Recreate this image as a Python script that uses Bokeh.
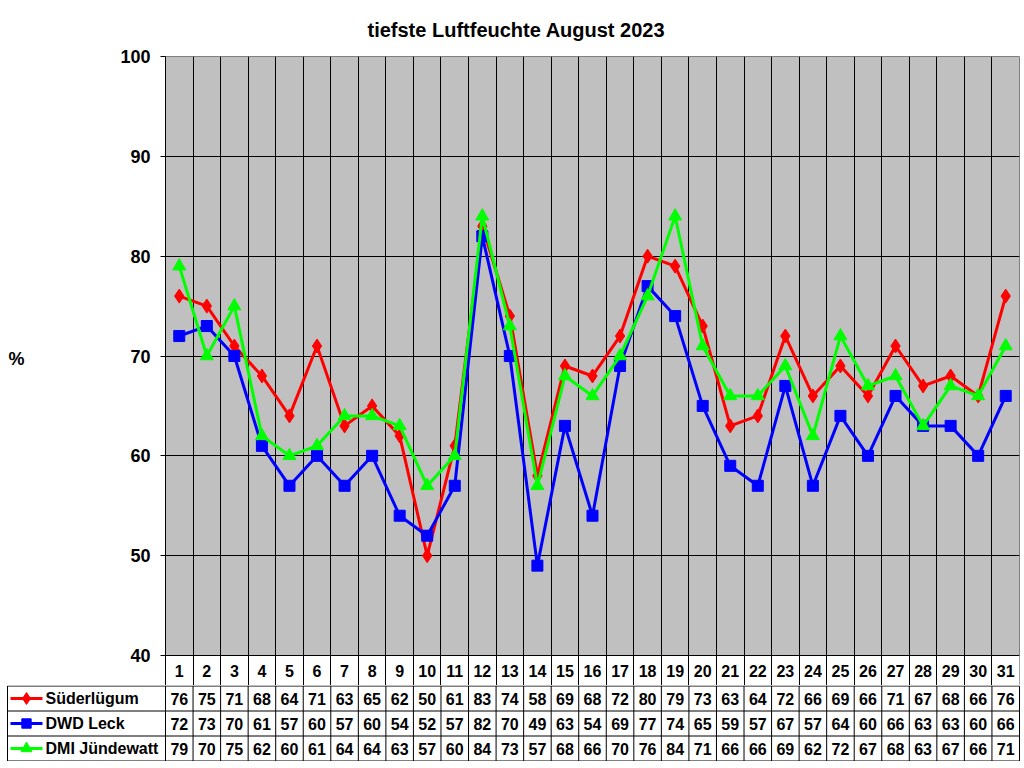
from bokeh.plotting import figure
from bokeh.models import Range1d, FixedTicker, Title, BoxAnnotation
from bokeh.core.properties import value
from bokeh.embed import file_html
from bokeh.resources import INLINE

# ---- data ----
days = list(range(1, 32))
suederluegum = [76, 75, 71, 68, 64, 71, 63, 65, 62, 50, 61, 83, 74, 58, 69, 68, 72, 80, 79, 73, 63, 64, 72, 66, 69, 66, 71, 67, 68, 66, 76]
dwd_leck = [72, 73, 70, 61, 57, 60, 57, 60, 54, 52, 57, 82, 70, 49, 63, 54, 69, 77, 74, 65, 59, 57, 67, 57, 64, 60, 66, 63, 63, 60, 66]
dmi_juendewatt = [79, 70, 75, 62, 60, 61, 64, 64, 63, 57, 60, 84, 73, 57, 68, 66, 70, 76, 84, 71, 66, 66, 69, 62, 72, 67, 68, 63, 67, 66, 71]
series_names = ["Süderlügum", "DWD Leck", "DMI Jündewatt"]
series_values = [suederluegum, dwd_leck, dmi_juendewatt]
series_colors = ["#FF0000", "#0000FF", "#00FF00"]
series_markers = ["diamond", "square", "triangle"]
series_sizes = [14, 11, 13]
y_ticks = [40, 50, 60, 70, 80, 90, 100]
y_min, y_max = 40, 100
title_text = "tiefste Luftfeuchte August 2023"
y_label = "%"

FONT = "Liberation Sans"
W = 1022
LEFT = 165
RIGHT = 3
TOP = 56
CHART_H = 599      # px for y_min..y_max
HEADER_H = 30      # day-number row
FRAME_W = W - LEFT - RIGHT
u = FRAME_W / 31.0            # px per day
ppu = CHART_H / (y_max - y_min)  # px per %

# ---- top chart (with header row inside frame) ----
p = figure(width=W, height=TOP + CHART_H + HEADER_H, output_backend="svg",
           toolbar_location=None,
           x_range=Range1d(0.5, 31.5),
           y_range=Range1d(y_min - HEADER_H / ppu, y_max),
           min_border_left=LEFT, min_border_right=RIGHT, min_border_top=TOP,
           min_border_bottom=0)
p.title = Title(text=title_text, align="left", offset=202, vertical_align="top",
                text_font=FONT, text_font_size="20px", text_font_style="bold",
                text_color="black", standoff=27)
p.background_fill_color = "#C0C0C0"
p.border_fill_color = "white"
p.outline_line_color = "#808080"
p.outline_line_width = 1

# white header row under the grid lines
p.add_layout(BoxAnnotation(top=y_min, fill_color="white", fill_alpha=1.0,
                           line_color=None, level="image"))

# grids
p.xgrid.ticker = FixedTicker(ticks=[d + 0.5 for d in days])
p.xgrid.grid_line_color = "black"
p.xgrid.grid_line_width = 1
p.ygrid.ticker = FixedTicker(ticks=y_ticks[:-1])
p.ygrid.grid_line_color = "black"
p.ygrid.grid_line_width = 1
p.xaxis.visible = False

# day numbers
p.text(x=days, y=[y_min - (HEADER_H / 2) / ppu] * len(days), text=[str(d) for d in days],
       text_align="center", text_baseline="middle", text_font=value(FONT),
       text_font_size="16px", text_font_style="bold", text_color="black")

# y axis
ya = p.yaxis[0]
ya.ticker = FixedTicker(ticks=y_ticks)
ya.major_tick_out = 5
ya.major_tick_in = 0
ya.minor_tick_line_color = None
ya.axis_line_color = "black"
ya.major_tick_line_color = "black"
ya.major_label_standoff = 10
ya.major_label_text_font = FONT
ya.major_label_text_font_size = "18px"
ya.major_label_text_font_style = "bold"
ya.major_label_text_color = "black"
ya.axis_label = y_label + "\n\u00a0"
ya.axis_label_orientation = "horizontal"
ya.axis_label_standoff = 93
ya.axis_label_text_font = FONT
ya.axis_label_text_font_size = "18px"
ya.axis_label_text_font_style = "bold"
ya.axis_label_text_color = "black"

for vals, col, mk, sz in zip(series_values, series_colors, series_markers, series_sizes):
    p.line(days, vals, line_color=col, line_width=3)
    p.scatter(days, vals, marker=mk, size=sz, fill_color=col, line_color=col)

# ---- table ----
ROW_H = 25
t = figure(width=W, height=3 * ROW_H + 1, output_backend="svg", toolbar_location=None,
           x_range=Range1d(0.5 - LEFT / u, 31.5 + RIGHT / u),
           y_range=Range1d(3 + 0.5 / ROW_H, -0.5 / ROW_H),
           min_border=0, min_border_left=0, min_border_right=0,
           min_border_top=0, min_border_bottom=0)
t.xaxis.visible = False
t.yaxis.visible = False
t.xgrid.visible = False
t.ygrid.visible = False
t.outline_line_color = None
t.background_fill_color = "white"
t.border_fill_color = "white"

x_left = 0.5 - (LEFT - 7) / u
x_right = 31.5
t.segment(x0=[x_left] * 4, y0=[0, 1, 2, 3], x1=[x_right] * 4, y1=[0, 1, 2, 3],
          line_color="black", line_width=1)
vx = [x_left] + [d - 0.5 for d in days] + [31.5]
t.segment(x0=vx, y0=[0] * len(vx), x1=vx, y1=[3] * len(vx), line_color="black", line_width=1)

for r, (name, vals, col, mk, sz) in enumerate(zip(series_names, series_values, series_colors,
                                                   series_markers, series_sizes)):
    yc = r + 0.5
    t.text(x=days, y=[yc] * 31, text=[str(v) for v in vals], text_align="center",
           text_baseline="middle", text_font=value(FONT), text_font_size="16px",
           text_font_style="bold", text_color="black")
    kx0 = x_left + 3 / u
    kx1 = x_left + 35 / u
    t.line([kx0, kx1], [yc, yc], line_color=col, line_width=3)
    t.scatter([(kx0 + kx1) / 2], [yc], marker=mk, size=sz * 0.85, fill_color=col, line_color=col)
    t.text(x=[x_left + 38 / u], y=[yc], text=[name], text_align="left", text_baseline="middle",
           text_font=value(FONT), text_font_size="16px", text_font_style="bold", text_color="black")

open("out.html", "w").write(file_html([p, t], INLINE))
